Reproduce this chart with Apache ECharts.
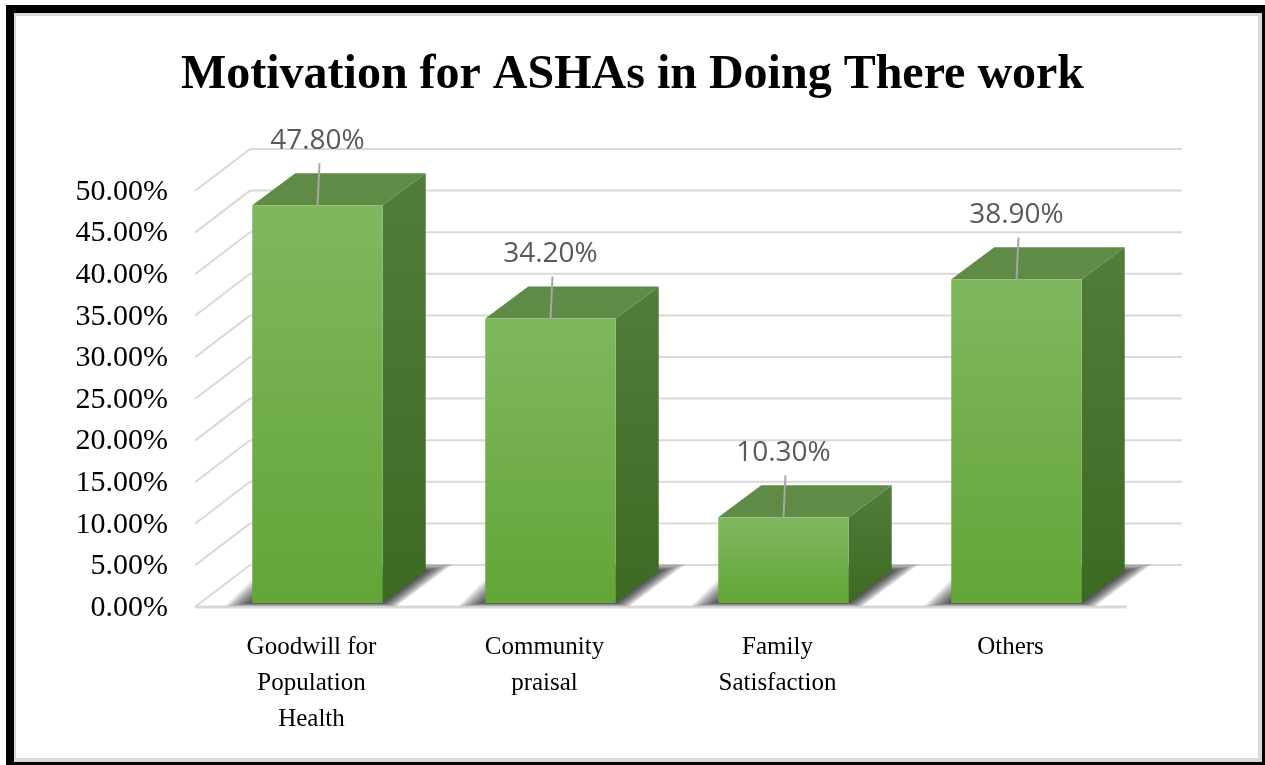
<!DOCTYPE html>
<html>
<head>
<meta charset="utf-8">
<script src="https://cdn.jsdelivr.net/npm/echarts@6/dist/echarts.min.js"></script>
<style>
  html, body { margin: 0; padding: 0; background: #fff; }
  #chart { width: 1265px; height: 765px; }
</style>
</head>
<body>
<div id="chart"></div>
<script>
// Chart data
const categories = ['Goodwill for\nPopulation\nHealth', 'Community\npraisal', 'Family\nSatisfaction', 'Others'];
const values = [47.8, 34.2, 10.3, 38.9];
const yTicks = [0, 5, 10, 15, 20, 25, 30, 35, 40, 45, 50];

// 3D look: depth of the floor/walls and of each box (pixels)
const WALL_DX = 55, WALL_DY = 42;
const BAR_X0 = 6, BAR_Y0 = 4;      // inset of the bar front from the floor edge
const BAR_DX = 43, BAR_DY = 32;    // bar depth
const BAR_FRAC = 0.56;             // bar width as share of a category
const LABEL_RISE = 64;             // label centre above the bar front top
const TICK_GAP = 27;               // space between tick labels and the side wall
const GRID_COLOR = '#d9d9d9';
const SERIF = 'Liberation Serif';

const chart = echarts.init(document.getElementById('chart'));

// side wall, back wall and floor edge for one tick, plus its label
function wallItem(params, api) {
  const cs = params.coordSys;
  const v = api.value(1);
  const y = api.coord([0, v])[1];
  const x0 = cs.x, x1 = cs.x + cs.width;
  const lineStyle = { stroke: GRID_COLOR, lineWidth: 2 };
  const children = [
    { type: 'line', shape: { x1: x0, y1: y, x2: x0 + WALL_DX, y2: y - WALL_DY }, style: lineStyle },
    { type: 'line', shape: { x1: x0 + WALL_DX, y1: y - WALL_DY, x2: x1 + WALL_DX, y2: y - WALL_DY }, style: lineStyle },
    {
      type: 'text',
      style: {
        text: v.toFixed(2) + '%',
        x: x0 - TICK_GAP, y: y + 1,
        align: 'right', verticalAlign: 'middle',
        fontFamily: SERIF,
        fontSize: 30,
        fill: '#000'
      }
    }
  ];
  if (v === 0) {
    children.push({ type: 'line', shape: { x1: x0, y1: y, x2: x1, y2: y }, style: { stroke: GRID_COLOR, lineWidth: 3 } });
  }
  return { type: 'group', children };
}

function barGeom(api) {
  const idx = api.value(0);
  const top = api.coord([idx, api.value(1)]);
  const base = api.coord([idx, 0]);
  const w = api.size([1, 0])[0] * BAR_FRAC;
  const fl = top[0] - w / 2 + BAR_X0;
  const fr = fl + w;
  const ft = top[1] - BAR_Y0;
  const fb = base[1] - BAR_Y0;
  return { fl, fr, ft, fb, w };
}

// soft floor shadow: stacked, growing copies of the bar footprint
function shadowItem(params, api) {
  const g = barGeom(api);
  const children = [];
  for (let e = 3; e <= 27; e += 3) {
    children.push({
      type: 'polygon',
      shape: { points: [
        [g.fl - e, g.fb + e * 0.12],
        [g.fr + e * 0.5, g.fb + e * 0.12],
        [g.fr + BAR_DX + e, g.fb - BAR_DY - e * 0.25],
        [g.fl + BAR_DX - e, g.fb - BAR_DY - e * 0.25]
      ] },
      style: { fill: 'rgba(0,0,0,0.11)' }
    });
  }
  return { type: 'group', children };
}

function barItem(params, api) {
  const g = barGeom(api);
  const v = api.value(1);
  const cx = (g.fl + g.fr) / 2;
  const ly = g.ft - LABEL_RISE;
  return {
    type: 'group',
    children: [
      {
        type: 'polygon',
        shape: { points: [[g.fr, g.ft], [g.fr + BAR_DX, g.ft - BAR_DY], [g.fr + BAR_DX, g.fb - BAR_DY], [g.fr, g.fb]] },
        style: { fill: new echarts.graphic.LinearGradient(0, 0, 0, 1, [
          { offset: 0, color: '#527d3a' }, { offset: 1, color: '#3d6a23' }
        ]) }
      },
      {
        type: 'polygon',
        shape: { points: [[g.fl, g.ft], [g.fr, g.ft], [g.fr + BAR_DX, g.ft - BAR_DY], [g.fl + BAR_DX, g.ft - BAR_DY]] },
        style: { fill: '#5f8b47' }
      },
      {
        type: 'rect',
        shape: { x: g.fl, y: g.ft, width: g.w, height: g.fb - g.ft },
        style: { fill: new echarts.graphic.LinearGradient(0, 0, 0, 1, [
          { offset: 0, color: '#7fb75f' }, { offset: 1, color: '#63a537' }
        ]) }
      },
      {
        type: 'line',
        shape: { x1: cx + 2, y1: ly + 22, x2: cx, y2: g.ft },
        style: { stroke: '#a6a6a6', lineWidth: 2 }
      },
      {
        type: 'text',
        style: {
          text: v.toFixed(2) + '%',
          x: cx, y: ly,
          align: 'center', verticalAlign: 'middle',
          fontFamily: 'Open Sans',
          fontSize: 28,
          fill: '#595959'
        }
      }
    ]
  };
}

const option = {
  animation: false,
  backgroundColor: '#fff',
  textStyle: { fontFamily: SERIF },
  title: {
    text: 'Motivation for ASHAs in Doing There work',
    left: 'center',
    top: 47,
    textStyle: { fontFamily: SERIF, fontWeight: 'bold', fontSize: 48, color: '#000' }
  },
  graphic: [
    { type: 'rect', silent: true, z: -10, shape: { x: 6, y: 5, width: 1259, height: 760 }, style: { fill: '#000' } },
    { type: 'rect', silent: true, z: -9, shape: { x: 14, y: 13, width: 1248, height: 749 }, style: { fill: '#d9d9d9' } },
    { type: 'rect', silent: true, z: -8, shape: { x: 16, y: 16, width: 1242, height: 742 }, style: { fill: '#fff' } }
  ],
  grid: { left: 195, right: 138, top: 191, bottom: 158 },
  xAxis: {
    type: 'category',
    data: categories,
    axisLine: { show: false },
    axisTick: { show: false },
    axisLabel: {
      margin: 22,
      interval: 0,
      fontFamily: SERIF,
      fontSize: 25,
      lineHeight: 36,
      color: '#000'
    }
  },
  yAxis: {
    type: 'value',
    min: 0, max: 50, interval: 5,
    axisLine: { show: false },
    axisTick: { show: false },
    splitLine: { show: false },
    axisLabel: { show: false }
  },
  series: [
    {
      type: 'custom',
      name: 'walls',
      z: 1,
      silent: true,
      clip: false,
      renderItem: wallItem,
      encode: { x: 0, y: 1 },
      data: yTicks.map(t => [0, t])
    },
    {
      type: 'custom',
      name: 'shadows',
      z: 2,
      silent: true,
      clip: false,
      renderItem: shadowItem,
      encode: { x: 0, y: 1 },
      data: values.map((v, i) => [i, v])
    },
    {
      type: 'custom',
      name: 'Motivation',
      z: 3,
      clip: false,
      renderItem: barItem,
      encode: { x: 0, y: 1 },
      data: values.map((v, i) => [i, v])
    }
  ]
};

chart.setOption(option);
</script>
</body>
</html>
